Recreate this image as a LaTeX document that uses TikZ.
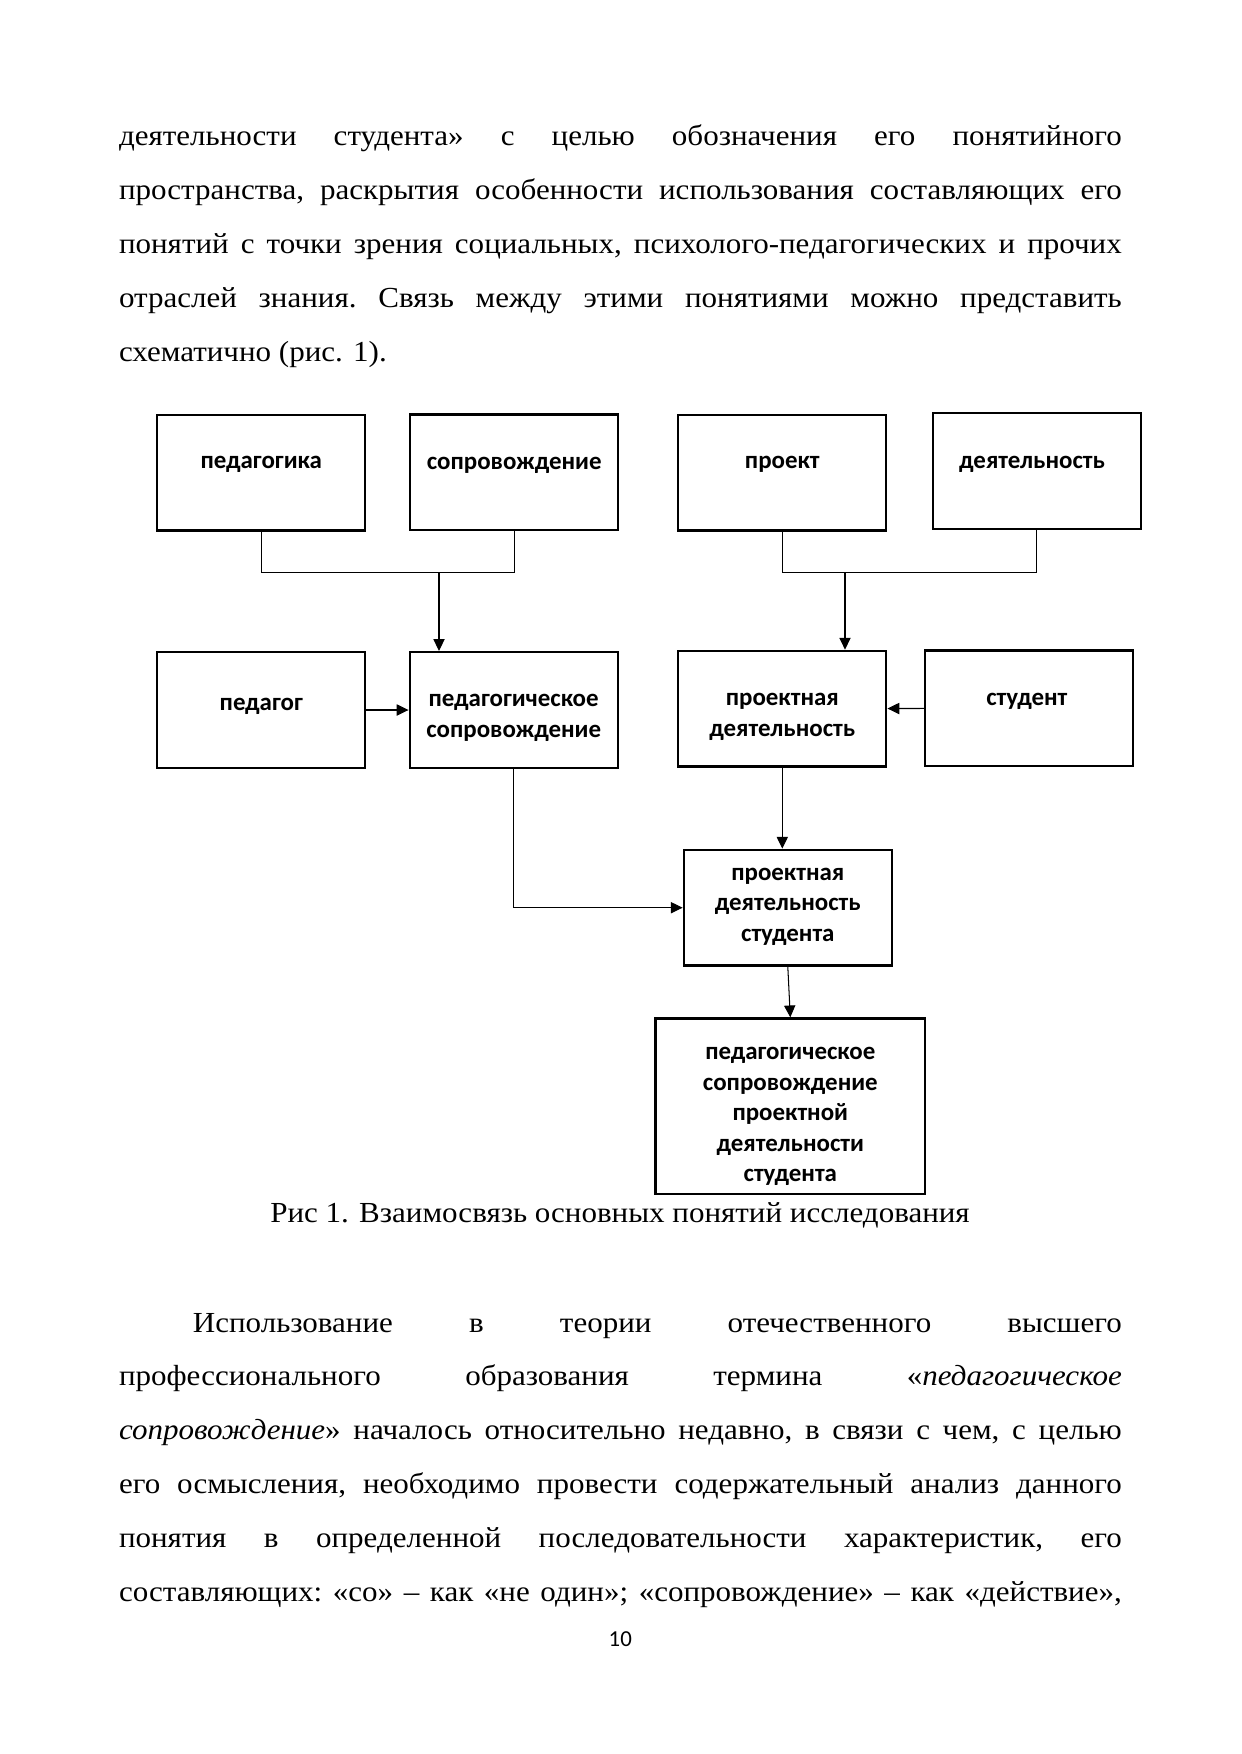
\documentclass[tikz,border=0pt]{standalone}
\usepackage{fontspec}
\setmainfont{Liberation Serif}[FakeStretch=1.067]
\newfontfamily\boxfont{Carlito}
\usetikzlibrary{arrows.meta,positioning}
\newlength\bodyw
\setlength\bodyw{169.7mm}
\newcommand{\jline}[1]{\hbox to \bodyw{\frenchspacing #1}}

\begin{document}
\begin{tikzpicture}[x=0.16922mm, y=-0.16922mm,
      >={Triangle[length=2mm,width=1.9mm]},
      cnode/.style={rectangle, draw, line width=1.1pt,
          minimum width=35.2mm, minimum height=19.6mm, inner sep=0pt},
      ctext/.style={inner sep=0pt, align=center,
          font=\boxfont\bfseries\fontsize{12}{14.7}\selectfont},
      tline/.style={anchor=base west, inner sep=0pt,
          font=\fontsize{14}{16.8}\selectfont},
      link/.style={line width=0.5pt}]
    \useasboundingbox (0,0) rectangle (1241,1754);

    \node[tline] (p1l1) at (118.6,145.5)
      {\jline{деятельности студента» с целью обозначения его понятийного}};
    \node[tline] (p1l2) at (118.6,199.4)
      {\jline{пространства, раскрытия особенности использования составляющих его}};
    \node[tline] (p1l3) at (118.6,253.3)
      {\jline{понятий с точки зрения социальных, психолого-педагогических и прочих}};
    \node[tline] (p1l4) at (118.6,307.2)
      {\jline{отраслей знания. Связь между этими понятиями можно представить}};
    \node[tline] (p1l5) at (118.6,361.1) {схематично (рис. 1).};

    \node[cnode] (pedagogika) at (261.3,472.7) {};
    \node[cnode] (soprov) at (514.2,472.4) {};
    \node[cnode] (proekt) at (782.3,472.7) {};
    \node[cnode] (deyat) at (1036.8,471) {};
    \node[cnode] (pedagog) at (261.3,710) {};
    \node[cnode] (pedsop) at (513.7,710) {};
    \node[cnode] (proektdeyat) at (782.3,708.7) {};
    \node[cnode] (student) at (1029.2,708.3) {};
    \node[cnode] (pds) at (787.8,907.7) {};
    \node[cnode, minimum width=45.6mm, minimum height=29.7mm] (final) at (790.3,1106.2) {};

    \node[ctext, below=7.2mm of pedagogika.north] (pedagogika-t) {педагогика};
    \node[ctext, below=7.3mm of soprov.north] (soprov-t) {сопровождение};
    \node[ctext, below=7.2mm of proekt.north] (proekt-t) {проект};
    \node[ctext, below=7.4mm of deyat.north, xshift=-0.8mm] (deyat-t) {деятельность};
    \node[ctext, below=8mm of pedagog.north] (pedagog-t) {педагог};
    \node[ctext, below=7.3mm of pedsop.north] (pedsop-t)
      {педагогическое\\сопровождение};
    \node[ctext, below=7.3mm of proektdeyat.north] (proektdeyat-t)
      {проектная\\деятельность};
    \node[ctext, below=7.3mm of student.north, xshift=-0.4mm] (student-t) {студент};
    \node[ctext, below=3.2mm of pds.north] (pds-t)
      {проектная\\деятельность\\студента};
    \node[ctext, below=5mm of final.north] (final-t)
      {педагогическое\\сопровождение\\проектной\\деятельности\\студента};

    \coordinate (jleft) at (439,572.3);
    \coordinate (jright) at (845,572.7);
    \draw[link] (pedagogika.south) |- (jleft) -| (soprov.south);
    \draw[link,->] (jleft) -- (jleft |- pedsop.north);
    \draw[link] (proekt.south) |- (jright) -| (deyat.south);
    \draw[link,->] (jright) -- (jright |- proektdeyat.north);
    \draw[link,->] (pedagog) -- (pedsop);
    \draw[link,->] (student) -- (proektdeyat);
    \draw[link,->] (pedsop.south) |- (pds.west);
    \draw[link,->] (proektdeyat.south) -- (proektdeyat.south |- pds.north);
    \draw[link,->] (pds.south) -- (final.north);

    \node[tline, anchor=base] (caption) at (620,1222)
      {Рис 1. Взаимосвязь основных понятий исследования};

    \node[tline] (p2l1) at (118.6,1332)
      {\jline{\hskip 12.5mm Использование в теории отечественного высшего}};
    \node[tline] (p2l2) at (118.6,1385.9)
      {\jline{профессионального образования термина «\textit{педагогическое}}};
    \node[tline] (p2l3) at (118.6,1439.8)
      {\jline{\textit{сопровождение}» началось относительно недавно, в связи с чем, с целью}};
    \node[tline] (p2l4) at (118.6,1493.7)
      {\jline{его осмысления, необходимо провести содержательный анализ данного}};
    \node[tline] (p2l5) at (118.6,1547.6)
      {\jline{понятия в определенной последовательности характеристик, его}};
    \node[tline] (p2l6) at (118.6,1601.5)
      {\jline{составляющих: «со» – как «не один»; «сопровождение» – как «действие»,}};

    \node[anchor=base, inner sep=0pt, font=\boxfont\fontsize{11}{13}\selectfont]
      (pagenum) at (620.3,1646) {10};
  \end{tikzpicture}
\end{document}
